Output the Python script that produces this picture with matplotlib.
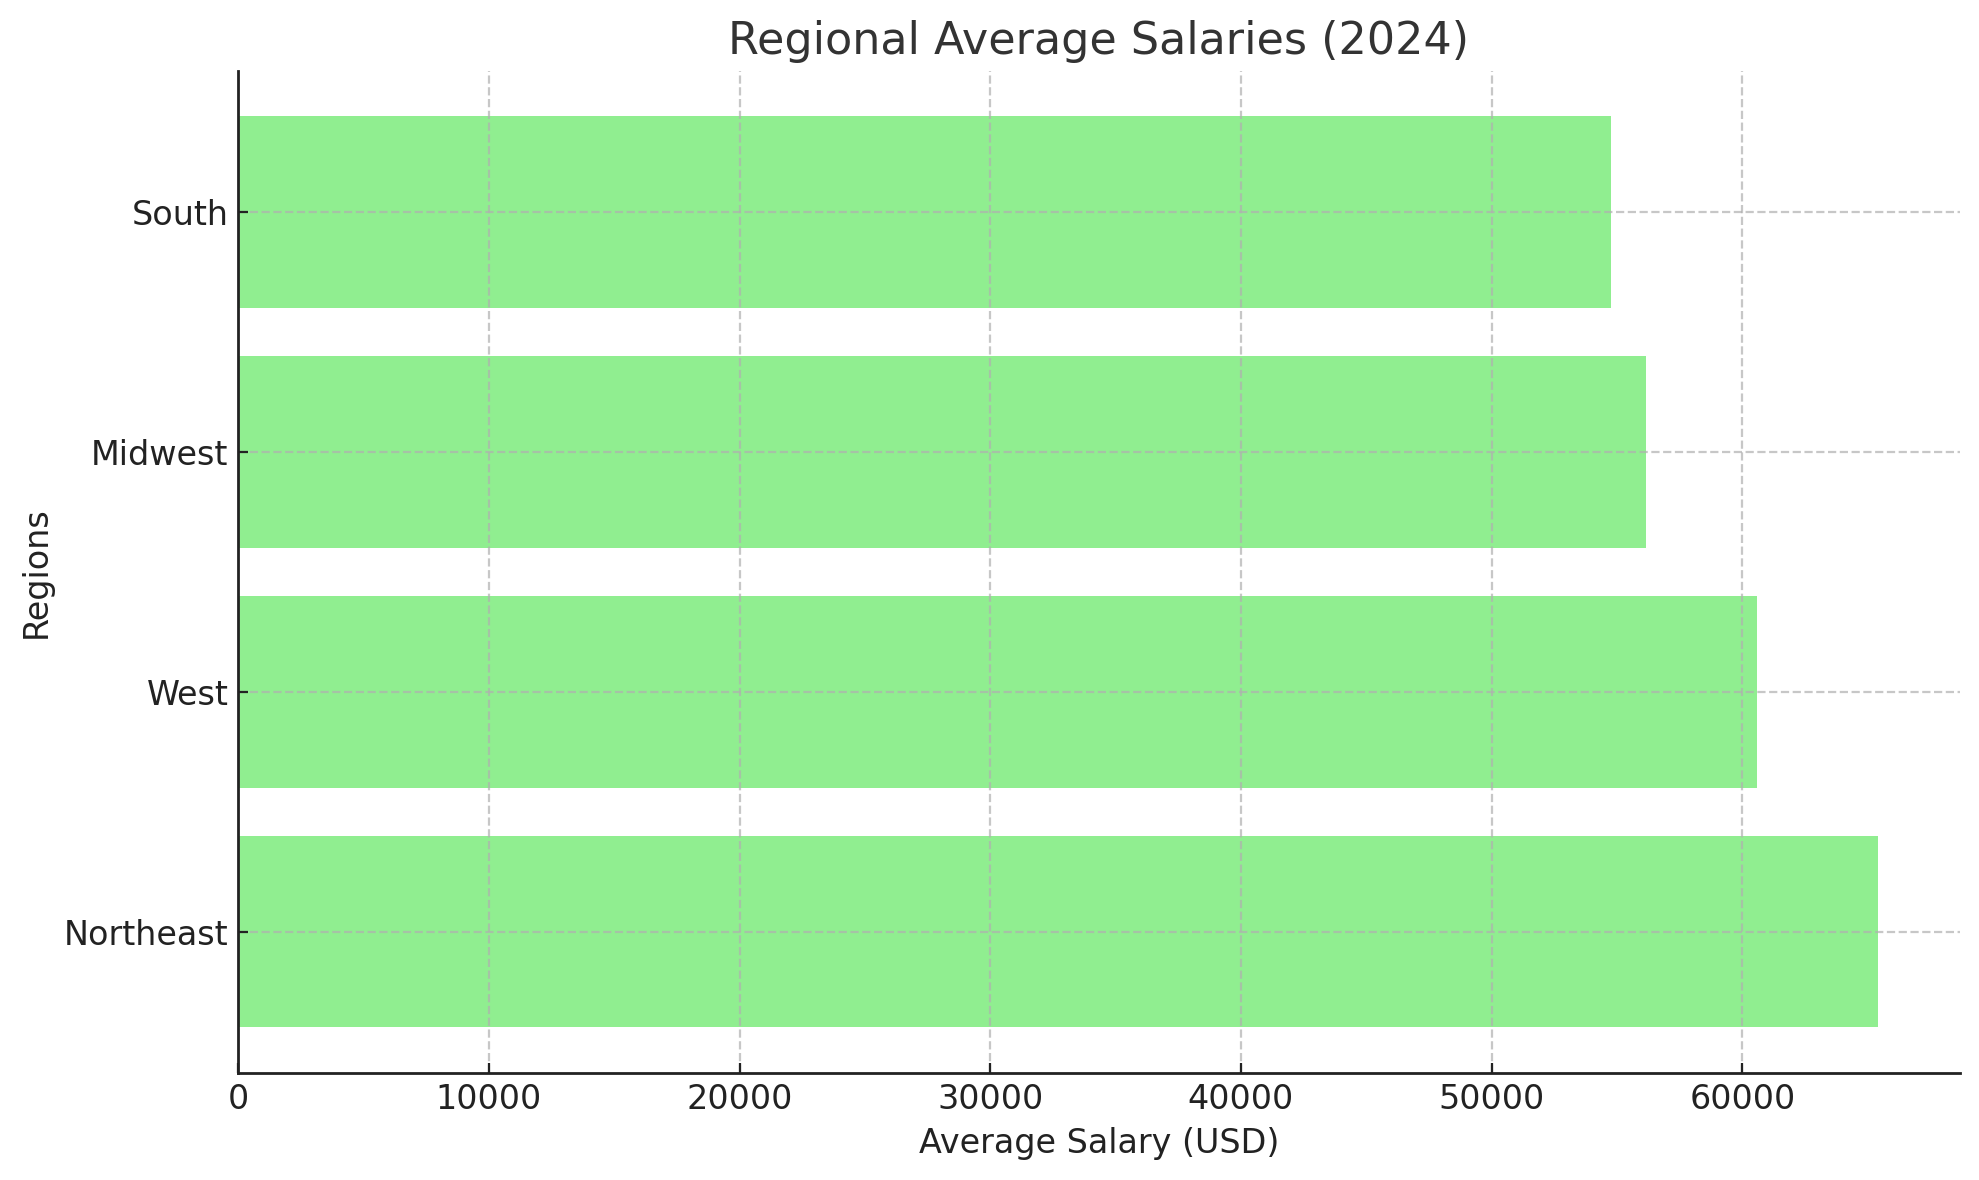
import matplotlib
matplotlib.use("Agg")
import matplotlib.pyplot as plt

regions = ["Northeast", "West", "Midwest", "South"]
salaries = [65400, 60600, 56150, 54750]

BAR_COLOR = "lightgreen"


def draw():
    fig = plt.figure(figsize=(9.895, 5.9), dpi=200)
    ax = fig.add_axes([0.1203, 0.0907, 0.870, 0.8493])

    ax.barh(regions, salaries, color=BAR_COLOR, height=0.8)

    ax.grid(True, linestyle="--", alpha=0.7)
    ax.set_axisbelow(False)
    ax.tick_params(direction="in", labelsize=12, colors="#222222")
    for side in ("top", "right"):
        ax.spines[side].set_visible(False)
    for side in ("left", "bottom"):
        ax.spines[side].set_color("#222222")
        ax.spines[side].set_linewidth(1.0)
        ax.spines[side].set_zorder(5)

    ax.set_title("Regional Average Salaries (2024)", fontsize=16, color="#333333")
    ax.set_xlabel("Average Salary (USD)", fontsize=12, color="#222222")
    ax.set_ylabel("Regions", fontsize=12, color="#222222")

    fig.savefig("out.png", dpi=200)


if __name__ == "__main__":
    draw()
